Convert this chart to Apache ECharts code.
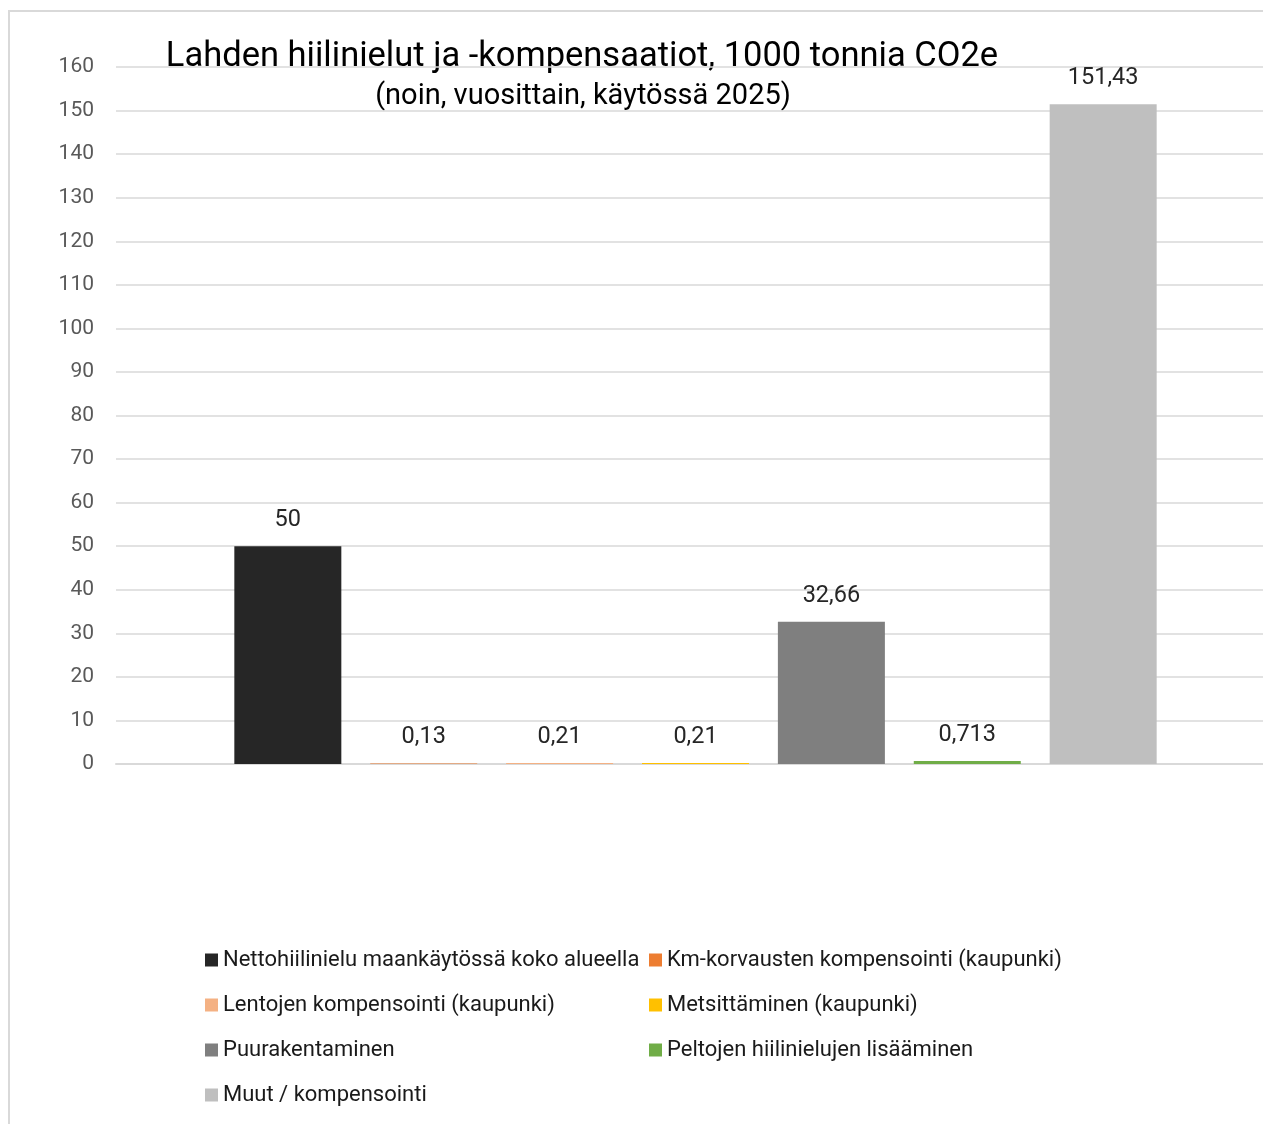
<!DOCTYPE html>
<html>
<head>
<meta charset="utf-8">
<script src="https://cdn.jsdelivr.net/npm/echarts@6/dist/echarts.min.js"></script>
<style>html,body{margin:0;padding:0;background:#fff}#c{width:1263px;height:1124px}</style>
</head>
<body>
<div id="c"></div>
<script>
const titleText = 'Lahden hiilinielut ja -kompensaatiot, 1000 tonnia CO2e';
const subtitleText = '(noin, vuosittain, käytössä 2025)';
const categories = [''];
const seriesNames = [
  'Nettohiilinielu maankäytössä koko alueella',
  'Km-korvausten kompensointi (kaupunki)',
  'Lentojen kompensointi (kaupunki)',
  'Metsittäminen (kaupunki)',
  'Puurakentaminen',
  'Peltojen hiilinielujen lisääminen',
  'Muut / kompensointi'
];
const seriesValues = [50, 0.13, 0.21, 0.21, 32.66, 0.713, 151.43];
const seriesLabels = ['50', '0,13', '0,21', '0,21', '32,66', '0,713', '151,43'];
const seriesColors = ['#262626', '#ED7D31', '#F4B183', '#FFC000', '#7F7F7F', '#70AD47', '#BFBFBF'];
const yMin = 0, yMax = 160, yStep = 10;

const FONT = 'Roboto';
const chart = echarts.init(document.getElementById('c'), null, {renderer: 'canvas'});
const series = seriesNames.map((n, i) => ({
  name: n,
  type: 'bar',
  data: [seriesValues[i]],
  barWidth: 107,
  barGap: '27%',
  itemStyle: {color: seriesColors[i]},
  label: {
    show: true, position: 'top', distance: 14,
    formatter: () => seriesLabels[i],
    color: '#262626', fontSize: 23.5, fontFamily: FONT
  }
}));
const legendCommon = {
  orient: 'vertical', icon: 'rect', itemWidth: 13, itemHeight: 13,
  itemGap: 21,
  textStyle: {fontSize: 22, fontFamily: FONT, color: '#1a1a1a', lineHeight: 24},
  selectedMode: false
};
chart.setOption({
  animation: false,
  graphic: [
    {type: 'rect', shape: {x: 9, y: 11, width: 1400, height: 1300}, style: {fill: 'none', stroke: '#d9d9d9', lineWidth: 2}, z: -1},
    {type: 'text', x: 582, y: 57, style: {text: titleText, textAlign: 'center', textVerticalAlign: 'middle', fontSize: 34.5, fontFamily: FONT, fill: '#000'}},
    {type: 'text', x: 583, y: 97, style: {text: subtitleText, textAlign: 'center', textVerticalAlign: 'middle', fontSize: 29, fontFamily: FONT, fill: '#000'}}
  ],
  grid: {left: 116, right: -12, top: 67, bottom: 360, containLabel: false, outerBoundsMode: 'none'},
  xAxis: {
    type: 'category', data: categories,
    axisLine: {show: true, lineStyle: {color: '#d9d9d9', width: 2}},
    axisTick: {show: false}, axisLabel: {show: false}
  },
  yAxis: {
    type: 'value', min: yMin, max: yMax, interval: yStep,
    axisLine: {show: false}, axisTick: {show: false},
    axisLabel: {fontSize: 21, fontFamily: FONT, color: '#595959', margin: 22},
    splitLine: {lineStyle: {color: '#d9d9d9', width: 1.5}}
  },
  legend: [
    Object.assign({}, legendCommon, {left: 200, top: 943, data: [seriesNames[0], seriesNames[2], seriesNames[4], seriesNames[6]]}),
    Object.assign({}, legendCommon, {left: 644, top: 943, data: [seriesNames[1], seriesNames[3], seriesNames[5]]})
  ],
  series: series
});
</script>
</body>
</html>
